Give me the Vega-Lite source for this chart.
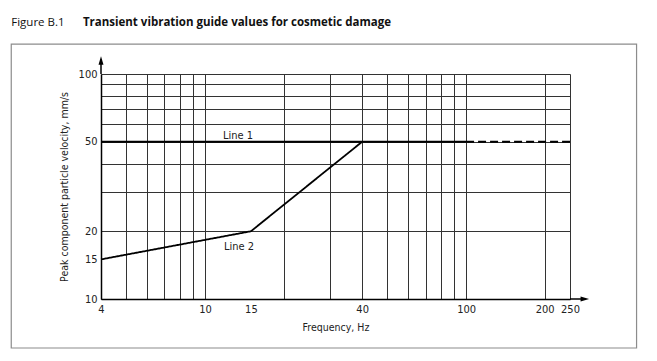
{
  "$schema": "https://vega.github.io/schema/vega-lite/v6.json",
  "width": 469,
  "height": 225,
  "autosize": "none",
  "padding": {"left": 101, "top": 74, "right": 87, "bottom": 62},
  "background": "white",
  "config": {"view": {"stroke": null}, "font": "DejaVu Sans Condensed"},
  "datasets": {
    "lines": [
      {"series": "Line 1", "f": 4, "v": 50},
      {"series": "Line 1", "f": 100, "v": 50},
      {"series": "Line 1 ext", "f": 100, "v": 50},
      {"series": "Line 1 ext", "f": 250, "v": 50},
      {"series": "Line 2", "f": 4, "v": 15},
      {"series": "Line 2", "f": 15, "v": 20},
      {"series": "Line 2", "f": 40, "v": 50}
    ],
    "labels": [
      {"label": "Line 1", "f": 13.4, "v": 53},
      {"label": "Line 2", "f": 13.5, "v": 17}
    ],
    "one": [{}]
  },
  "layer": [
    {
      "data": {"name": "lines"},
      "mark": {"type": "line", "color": "black", "strokeWidth": 1.8},
      "encoding": {
        "x": {
          "field": "f", "type": "quantitative",
          "scale": {"type": "log", "domain": [4, 250], "nice": false},
          "axis": {
            "values": [4, 5, 6, 7, 8, 9, 10, 15, 20, 30, 40, 50, 60, 70, 80, 90, 100, 200, 250],
            "grid": true,
            "gridColor": "#333",
            "gridWidth": 1,
            "gridOpacity": {"condition": {"test": "datum.value === 15", "value": 0}, "value": 1},
            "ticks": false,
            "domainColor": "black",
            "domainWidth": 1.5,
            "labelExpr": "indexof([4,10,15,40,100,200,250], datum.value) >= 0 ? format(datum.value, 'd') : ''",
            "labelOverlap": false,
            "labelFlush": false,
            "labelBound": false,
            "labelPadding": 4,
            "labelFontSize": 11,
            "labelColor": "#222",
            "title": "Frequency, Hz",
            "titleFontSize": 10.5,
            "titleFontWeight": "normal",
            "titleColor": "#222",
            "titlePadding": 8
          }
        },
        "y": {
          "field": "v", "type": "quantitative",
          "scale": {"type": "log", "domain": [10, 100], "nice": false},
          "axis": {
            "values": [10, 15, 20, 30, 40, 50, 60, 70, 80, 90, 100],
            "grid": true,
            "gridColor": "#333",
            "gridWidth": 1,
            "gridOpacity": {"condition": {"test": "datum.value === 15", "value": 0}, "value": 1},
            "ticks": false,
            "domainColor": "black",
            "domainWidth": 1.5,
            "labelExpr": "indexof([10,15,20,50,100], datum.value) >= 0 ? format(datum.value, 'd') : ''",
            "labelOverlap": false,
            "labelFlush": false,
            "labelBound": false,
            "labelPadding": 4,
            "labelFontSize": 11,
            "labelColor": "#222",
            "title": "Peak component particle velocity, mm/s",
            "titleFontSize": 10.5,
            "titleFontWeight": "normal",
            "titleColor": "#222",
            "titlePadding": 9
          }
        },
        "detail": {"field": "series"},
        "strokeDash": {
          "field": "series", "type": "nominal",
          "scale": {"domain": ["Line 1", "Line 1 ext", "Line 2"], "range": [[1, 0], [8, 4], [1, 0]]},
          "legend": null
        }
      }
    },
    {
      "data": {"name": "labels"},
      "mark": {"type": "text", "fontSize": 11, "color": "#222"},
      "encoding": {
        "x": {"field": "f", "type": "quantitative"},
        "y": {"field": "v", "type": "quantitative"},
        "text": {"field": "label"}
      }
    },
    {
      "data": {"name": "one"},
      "mark": {"type": "rect", "fill": "transparent", "stroke": "#8c8c8c", "strokeWidth": 1.2},
      "encoding": {
        "x": {"datum": 1.813},
        "x2": {"datum": 449.6},
        "y": {"datum": 6.057},
        "y2": {"datum": 135.9}
      }
    },
    {
      "data": {"name": "one"},
      "mark": {"type": "rule", "color": "black", "strokeWidth": 1.5},
      "encoding": {
        "x": {"datum": 4},
        "y": {"datum": 100},
        "y2": {"datum": 116}
      }
    },
    {
      "data": {"name": "one"},
      "mark": {"type": "rule", "color": "black", "strokeWidth": 1.5},
      "encoding": {
        "x": {"datum": 250},
        "x2": {"datum": 285},
        "y": {"datum": 10}
      }
    },
    {
      "data": {"name": "one"},
      "mark": {"type": "point", "filled": true, "color": "black", "opacity": 1, "size": 100, "shape": "M0,-1L0.5,0.7L-0.5,0.7Z"},
      "encoding": {
        "x": {"datum": 4},
        "y": {"datum": 114}
      }
    },
    {
      "data": {"name": "one"},
      "mark": {"type": "point", "filled": true, "color": "black", "opacity": 1, "size": 100, "shape": "M1,0L-0.7,0.5L-0.7,-0.5Z"},
      "encoding": {
        "x": {"datum": 283},
        "y": {"datum": 10}
      }
    },
    {
      "data": {"name": "one"},
      "mark": {"type": "text", "align": "left", "baseline": "middle", "font": "Open Sans", "fontSize": 11.5, "color": "#111", "text": "Figure B.1"},
      "encoding": {
        "x": {"datum": 1.813},
        "y": {"datum": 168.5}
      }
    },
    {
      "data": {"name": "one"},
      "mark": {"type": "text", "align": "left", "baseline": "middle", "font": "Open Sans", "fontSize": 11.5, "fontWeight": "bold", "color": "#111", "text": "Transient vibration guide values for cosmetic damage"},
      "encoding": {
        "x": {"datum": 3.41},
        "y": {"datum": 168.5}
      }
    }
  ]
}
